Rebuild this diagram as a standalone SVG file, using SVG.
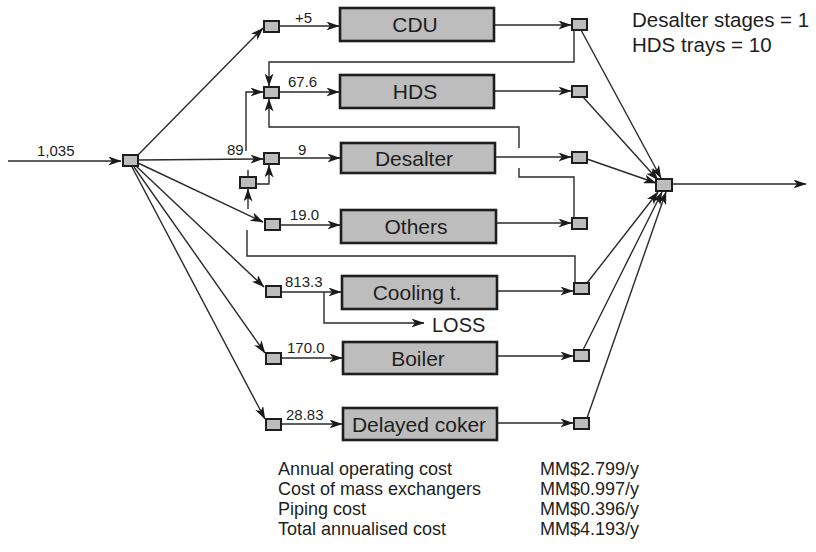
<svg xmlns="http://www.w3.org/2000/svg" width="816" height="552" viewBox="0 0 816 552">
<defs>
<marker id="a" markerWidth="13" markerHeight="9" refX="12.5" refY="4.5" orient="auto" markerUnits="userSpaceOnUse"><path d="M0,0 L13,4.5 L0,9 L3.5,4.5 z" fill="#1a1a1a"/></marker>
</defs>
<style>
.c{fill:none;stroke:#2a2a2a;stroke-width:1.4}
.ar{marker-end:url(#a)}
.n{fill:#bdbdbd;stroke:#1e1e1e;stroke-width:2}
.b{fill:#bdbdbd;stroke:#1e1e1e;stroke-width:2.6}
.t{font-family:"Liberation Sans",Arial,sans-serif;fill:#1e1e1e}
.bl{font-size:21px;text-anchor:middle}
.v{font-size:15px}
.k{font-size:18px}
</style>
<rect width="816" height="552" fill="#fff"/>
<g id="connectors">
<path class="c ar" d="M8,161 L121,161"/>
<path class="c ar" d="M137,156 L263,28"/>
<path class="c ar" d="M138,160 L263,159"/>
<path class="c ar" d="M246,151 L246,92 L263,92"/>
<path class="c ar" d="M574,30 L574,62 L269,62 L269,86"/>
<path class="c ar" d="M519,148 L519,127 L269,127 L269,99"/>
<path class="c" d="M519,168 L519,177 L574,177 L574,218"/>
<path class="c" d="M248,170 L248,177"/>
<path class="c ar" d="M248,209 L248,189"/>
<path class="c ar" d="M256,184 L269,184 L269,165"/>
<path class="c" d="M247,230 L247,256 L575,256 L575,283"/>
<path class="c ar" d="M138,163 L263,222"/>
<path class="c ar" d="M136,166 L264,287"/>
<path class="c ar" d="M134,167 L265,353"/>
<path class="c ar" d="M132,167 L265,419"/>
<path class="c ar" d="M279,26 L339,26"/>
<path class="c ar" d="M279,92 L339,92"/>
<path class="c ar" d="M279,158 L340,158"/>
<path class="c ar" d="M280,225 L340,225"/>
<path class="c ar" d="M281,292 L341,292"/>
<path class="c ar" d="M324,292 L324,323 L424,323"/>
<path class="c ar" d="M281,358 L342,358"/>
<path class="c ar" d="M281,424 L342,424"/>
<path class="c ar" d="M494,25 L571,25"/>
<path class="c ar" d="M494,91 L571,91"/>
<path class="c ar" d="M495,157 L571,157"/>
<path class="c ar" d="M496,223 L571,223"/>
<path class="c ar" d="M497,291 L573,291"/>
<path class="c ar" d="M497,356 L573,356"/>
<path class="c ar" d="M497,423 L573,423"/>
<path class="c ar" d="M581,30 L661,178"/>
<path class="c ar" d="M583,97 L658,180"/>
<path class="c ar" d="M587,159 L656,183"/>
<path class="c ar" d="M587,283 L658,192"/>
<path class="c ar" d="M583,350 L662,192"/>
<path class="c ar" d="M587,418 L666,192"/>
<path class="c ar" d="M672,184 L806,184"/>
</g>
<g id="labels" class="t v">
<text x="37" y="156">1,035</text>
<text x="227" y="155">89</text>
<text x="295" y="23">+5</text>
<text x="288" y="87">67.6</text>
<text x="298" y="155">9</text>
<text x="290" y="220">19.0</text>
<text x="285" y="287">813.3</text>
<text x="287" y="353">170.0</text>
<text x="286" y="420">28.83</text>
<text x="432" y="332" style="font-size:20px">LOSS</text>
</g>
<g id="splitter-main"><rect class="n" x="123" y="155" width="15" height="11"/></g>
<g id="mixer-cdu"><rect class="n" x="264" y="21" width="15" height="11"/></g>
<g id="mixer-hds"><rect class="n" x="264" y="87" width="15" height="11"/></g>
<g id="mixer-desalter"><rect class="n" x="264" y="153" width="15" height="11"/></g>
<g id="mixer-small"><rect class="n" x="240" y="177" width="16" height="11"/></g>
<g id="mixer-others"><rect class="n" x="265" y="219" width="15" height="11"/></g>
<g id="mixer-cooling"><rect class="n" x="266" y="286" width="15" height="11"/></g>
<g id="mixer-boiler"><rect class="n" x="266" y="353" width="15" height="11"/></g>
<g id="mixer-coker"><rect class="n" x="266" y="419" width="15" height="11"/></g>
<g id="cdu"><rect class="b" x="340" y="8" width="154" height="33"/><text class="t bl" x="415" y="32">CDU</text></g>
<g id="hds"><rect class="b" x="340" y="75" width="154" height="33"/><text class="t bl" x="415" y="99">HDS</text></g>
<g id="desalter"><rect class="b" x="341" y="143" width="154" height="30"/><text class="t bl" x="414" y="165.5">Desalter</text></g>
<g id="others"><rect class="b" x="341" y="210" width="155" height="33"/><text class="t bl" x="416" y="234">Others</text></g>
<g id="cooling"><rect class="b" x="342" y="276" width="155" height="33"/><text class="t bl" x="417" y="300">Cooling t.</text></g>
<g id="boiler"><rect class="b" x="343" y="342" width="154" height="32"/><text class="t bl" x="418" y="365.5">Boiler</text></g>
<g id="coker"><rect class="b" x="343" y="408" width="154" height="32"/><text class="t bl" x="419" y="431.5">Delayed coker</text></g>
<g id="split-cdu"><rect class="n" x="572" y="19" width="15" height="11"/></g>
<g id="split-hds"><rect class="n" x="572" y="86" width="15" height="11"/></g>
<g id="split-desalter"><rect class="n" x="572" y="152" width="15" height="11"/></g>
<g id="split-others"><rect class="n" x="572" y="218" width="15" height="11"/></g>
<g id="split-cooling"><rect class="n" x="574" y="283" width="15" height="11"/></g>
<g id="split-boiler"><rect class="n" x="574" y="350" width="15" height="11"/></g>
<g id="split-coker"><rect class="n" x="574" y="418" width="15" height="11"/></g>
<g id="mixer-final"><rect class="n" x="656" y="179" width="16" height="12"/></g>
<g id="notes" class="t" style="font-size:20.5px">
<text x="632" y="27">Desalter stages = 1</text>
<text x="632" y="52">HDS trays = 10</text>
</g>
<g id="costs" class="t k">
<text x="278" y="475">Annual operating cost</text>
<text x="278" y="495">Cost of mass exchangers</text>
<text x="278" y="515">Piping cost</text>
<text x="278" y="535">Total annualised cost</text>
<text x="540" y="475">MM$2.799/y</text>
<text x="540" y="495">MM$0.997/y</text>
<text x="540" y="515">MM$0.396/y</text>
<text x="540" y="535">MM$4.193/y</text>
</g>
</svg>
